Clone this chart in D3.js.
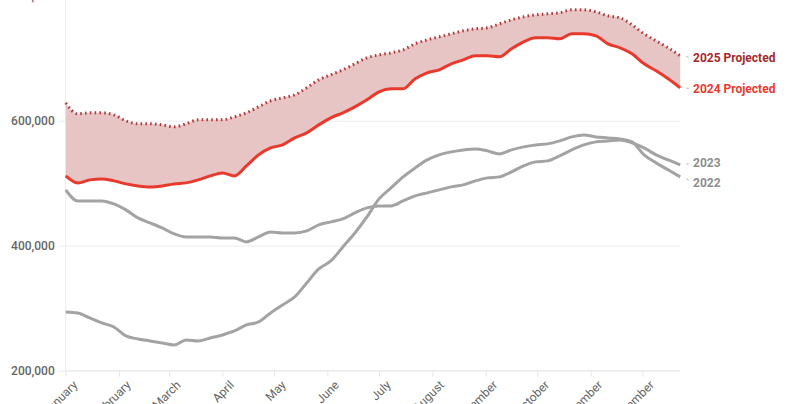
<!DOCTYPE html>
<html>
<head>
<meta charset="utf-8">
<script src="https://cdn.jsdelivr.net/npm/d3@7"></script>
<style>
  html, body { margin: 0; padding: 0; background: #fff; }
  svg { display: block; font-family: Roboto, "Noto Sans", sans-serif; }
</style>
</head>
<body>
<svg id="chart" width="793" height="404"></svg>
<script>
const weeks = ["2024-01-01","2024-01-08","2024-01-15","2024-01-22","2024-01-29","2024-02-05","2024-02-12","2024-02-19","2024-02-26","2024-03-04","2024-03-11","2024-03-18","2024-03-25","2024-04-01","2024-04-08","2024-04-15","2024-04-22","2024-04-29","2024-05-06","2024-05-13","2024-05-20","2024-05-27","2024-06-03","2024-06-10","2024-06-17","2024-06-24","2024-07-01","2024-07-08","2024-07-15","2024-07-22","2024-07-29","2024-08-05","2024-08-12","2024-08-19","2024-08-26","2024-09-02","2024-09-09","2024-09-16","2024-09-23","2024-09-30","2024-10-07","2024-10-14","2024-10-21","2024-10-28","2024-11-04","2024-11-11","2024-11-18","2024-11-25","2024-12-02","2024-12-09","2024-12-16","2024-12-23"];

const projected2025 = [628600,611000,612600,612600,609400,599800,595000,595000,593400,590200,595000,601400,601400,601400,606200,612600,622200,631800,636600,641400,652600,665400,673400,681400,691000,700600,705400,708600,713400,723000,729400,734200,739000,743800,747000,748600,755000,761400,766200,769400,771000,772600,777400,777400,774200,767800,764600,753400,739000,727800,716600,703800];

const projected2024 = [511700,500500,505300,506900,503700,498900,495700,494100,495700,498900,500500,505300,511700,516500,511700,527700,545300,556500,561300,572500,580500,593300,604500,612600,622200,633400,646200,651000,651000,667000,676600,681400,691000,697400,703800,703800,702200,715000,726200,732600,732600,731000,739000,739000,735800,723000,716600,707000,691000,679800,667000,652600];

const year2023 = [489300,471700,471700,471700,466900,457300,444500,436500,428500,418900,414100,414100,414100,412500,412500,406100,414100,422100,420500,420500,423700,433300,438100,442900,452500,460500,463700,463700,471700,479700,484500,489300,494100,497300,503700,508500,510100,518100,527700,534100,535700,543700,553300,561300,566100,567700,569300,564500,556500,545300,537300,529300];

const year2022 = [294000,292400,284400,276400,270000,255600,250800,247600,244400,241200,249200,247600,252400,257200,263600,273200,278000,292400,305200,318000,340400,362800,375600,398000,420400,446000,474900,492500,510100,524500,537300,545300,550100,553300,554900,551700,546900,553300,558100,561300,562900,567700,574100,577300,574100,572500,570900,566100,545300,532500,521300,510100];

const monthTicks = ["2024-01-01","2024-02-01","2024-03-01","2024-04-01","2024-05-01","2024-06-01","2024-07-01","2024-08-01","2024-09-01","2024-10-01","2024-11-01","2024-12-01"];
const monthNames = ["January","February","March","April","May","June","July","August","September","October","November","December"];
const yTicks = [200000, 400000, 600000, 800000];

const seriesLabels = [
  {name: "2025 Projected", values: projected2025, color: "#a8282b", labelY: 58},
  {name: "2024 Projected", values: projected2024, color: "#ea3a2e", labelY: 89},
  {name: "2023", values: year2023, color: "#8e8e8e", labelY: 163},
  {name: "2022", values: year2022, color: "#8e8e8e", labelY: 183}
];

const parse = d3.timeParse("%Y-%m-%d");
const dates = weeks.map(parse);
const tickDates = monthTicks.map(parse);

const svg = d3.select("#chart");
const left = 65.7, bottom = 370.7;
const x = d3.scaleTime().domain([parse("2024-01-01"), parse("2024-12-31")]).range([left, 694]);
const y = d3.scaleLinear().domain([200000, 800000]).range([bottom, -4.3]);
const xEnd = x(dates[dates.length - 1]);

// grid lines + y labels
const yAxis = d3.axisLeft(y).tickValues(yTicks).tickFormat(d3.format(","))
  .tickSize(-(xEnd - left)).tickPadding(11);
const gy = svg.append("g").attr("transform", `translate(${left},0)`).call(yAxis);
gy.select(".domain").remove();
gy.selectAll(".tick line").attr("stroke", "#ececec").attr("x1", -7);
gy.selectAll(".tick text").attr("fill", "#666").style("font-size", "12px").style("font-weight", "500")
  .attr("font-family", "Roboto, sans-serif");

// vertical axis line
svg.append("line").attr("x1", left).attr("x2", left).attr("y1", 0).attr("y2", bottom)
  .attr("stroke", "#ececec");

// x axis
const xAxis = d3.axisBottom(x).tickValues(tickDates).tickFormat((d, i) => monthNames[i]).tickSize(6).tickSizeOuter(0);
const gx = svg.append("g").attr("transform", `translate(0,${bottom})`).call(xAxis);
gx.select(".domain").attr("d", `M${left},0H${xEnd}`).attr("stroke", "#ececec");
gx.selectAll(".tick line").attr("stroke", "#e6e6e6");
gx.selectAll(".tick text")
  .attr("y", 0).attr("dy", 0)
  .attr("transform", "translate(12,15) rotate(-45)")
  .style("text-anchor", "end")
  .attr("fill", "#666").style("font-size", "12px")
  .attr("font-family", "Roboto, sans-serif");

// band between projections
const area = d3.area().x((d, i) => x(dates[i])).y0((d, i) => y(projected2024[i])).y1(d => y(d)).curve(d3.curveMonotoneX);
svg.append("path").datum(projected2025).attr("d", area).attr("fill", "#e8c5c5");

const line = d3.line().x((d, i) => x(dates[i])).y(d => y(d)).curve(d3.curveMonotoneX);

[year2022, year2023].forEach(vals => {
  svg.append("path").datum(vals).attr("d", line).attr("fill", "none")
    .attr("stroke", "#a3a3a3").attr("stroke-width", 3).attr("stroke-linejoin", "round");
});

svg.append("path").datum(projected2024).attr("d", line).attr("fill", "none")
  .attr("stroke", "#e8392d").attr("stroke-width", 3).attr("stroke-linejoin", "round");

svg.append("path").datum(projected2025).attr("d", line).attr("fill", "none")
  .attr("stroke", "#b23a3a").attr("stroke-width", 3).attr("stroke-dasharray", "1.6,3.2");

// end labels
seriesLabels.forEach(s => {
  const ey = y(s.values[s.values.length - 1]);
  svg.append("line").attr("x1", xEnd + 6).attr("y1", ey + (s.labelY - ey) * 0.3)
    .attr("x2", xEnd + 8.5).attr("y2", ey + (s.labelY - ey) * 0.6)
    .attr("stroke", "#bbb").attr("stroke-width", 1);
  svg.append("text").attr("x", 693).attr("y", s.labelY).attr("dy", "0.35em")
    .attr("fill", s.color).style("font-size", "12px").style("font-weight", "700")
    .text(s.name);
});
</script>
</body>
</html>
